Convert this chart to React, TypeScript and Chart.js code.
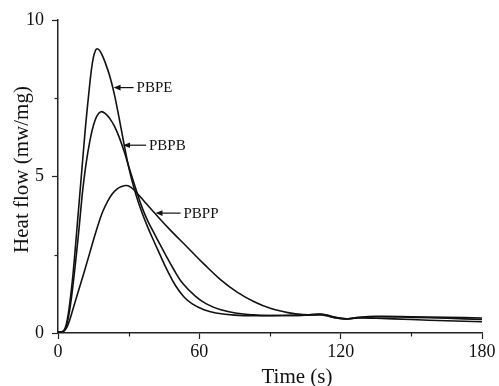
import React, { useEffect, useRef } from "react";
import { Chart, registerables } from "chart.js";

Chart.register(...registerables);

// ---- Data ----
const timePBPE = [0, 2, 3, 4, 5, 6, 7, 8, 9, 10, 11, 12, 13, 14, 15, 16, 16.6, 17.5, 18.5, 20, 22, 24, 26, 28, 30, 32, 34, 36, 38, 40, 43, 46.4, 50, 53.5, 57, 62, 67, 75, 85, 95, 105, 112, 117, 122, 127, 135, 150, 165, 180];
const flowPBPE = [0.03, 0.05, 0.15, 0.45, 0.95, 1.6, 2.4, 3.3, 4.2, 5.1, 6.0, 6.85, 7.6, 8.3, 8.8, 9.04, 9.08, 9.04, 8.92, 8.65, 8.2, 7.6, 6.85, 6.05, 5.3, 4.7, 4.2, 3.78, 3.4, 3.05, 2.55, 2.0, 1.5, 1.15, 0.93, 0.74, 0.64, 0.57, 0.55, 0.56, 0.57, 0.6, 0.5, 0.45, 0.49, 0.52, 0.5, 0.47, 0.43];

const timePBPB = [0, 2, 3, 4, 5, 6, 7, 8, 9, 10, 10.5, 12, 13.7, 15, 16.5, 18.2, 20, 22, 24, 26, 28, 30, 32, 34, 36, 38, 40, 42.1, 45.5, 49.2, 53, 58.4, 63, 69.1, 76, 83, 90, 100, 108, 113, 118, 123, 128, 135, 150, 165, 180];
const flowPBPB = [0.03, 0.04, 0.12, 0.35, 0.75, 1.3, 1.95, 2.65, 3.4, 4.2, 4.57, 5.45, 6.2, 6.62, 6.93, 7.07, 7.02, 6.85, 6.6, 6.25, 5.82, 5.33, 4.85, 4.38, 3.95, 3.6, 3.3, 3.0, 2.52, 2.02, 1.58, 1.17, 0.93, 0.74, 0.63, 0.58, 0.56, 0.56, 0.58, 0.59, 0.5, 0.45, 0.5, 0.53, 0.52, 0.5, 0.48];

const timePBPP = [0, 2, 3, 4, 5, 6.5, 8.5, 11.4, 14.2, 17, 19, 21, 23, 25, 27, 29.2, 31, 33.3, 37, 41.4, 47.8, 54.9, 62, 69.1, 76.2, 83.3, 90.4, 97.6, 104, 112, 117, 122, 127, 135, 150, 165, 180];
const flowPBPP = [0.02, 0.04, 0.1, 0.22, 0.42, 0.8, 1.3, 2.02, 2.75, 3.45, 3.88, 4.2, 4.44, 4.6, 4.68, 4.71, 4.65, 4.49, 4.17, 3.8, 3.28, 2.74, 2.2, 1.7, 1.3, 1.0, 0.78, 0.65, 0.59, 0.58, 0.5, 0.45, 0.48, 0.47, 0.43, 0.39, 0.36];

const seriesNames = ["PBPE", "PBPB", "PBPP"];
// arrow tip of each label, in data units (time, heat flow)
const labelTipTime = [23.6, 27.6, 41.4];
const labelTipFlow = [7.84, 6.0, 3.83];

const xTicks = [0, 60, 120, 180];
const xMinorTicks = [30, 90, 150];
const yTicks = [0, 5, 10];
const yMinorTicks = [2.5, 7.5];

const xTitle = "Time (s)";
const yTitle = "Heat flow (mw/mg)";

const SERIF = '"Liberation Serif", "Times New Roman", Times, serif';
const INK = "#111";

const toPoints = (t: number[], v: number[]) => t.map((x, i) => ({ x, y: v[i] }));

const decorPlugin = {
  id: "decor",
  afterDraw(chart: any) {
    const { ctx, scales } = chart;
    const x = scales.x;
    const y = scales.y;
    ctx.save();
    // minor ticks
    ctx.strokeStyle = "#222";
    ctx.lineWidth = 1.2;
    xMinorTicks.forEach((v) => {
      const px = Math.round(x.getPixelForValue(v)) + 0.5;
      ctx.beginPath();
      ctx.moveTo(px, y.bottom);
      ctx.lineTo(px, y.bottom + 3.5);
      ctx.stroke();
    });
    yMinorTicks.forEach((v) => {
      const py = Math.round(y.getPixelForValue(v)) + 0.5;
      ctx.beginPath();
      ctx.moveTo(x.left, py);
      ctx.lineTo(x.left - 3.5, py);
      ctx.stroke();
    });

    // series labels with arrows
    ctx.fillStyle = INK;
    ctx.strokeStyle = INK;
    ctx.lineWidth = 1.2;
    ctx.font = `15px ${SERIF}`;
    ctx.textAlign = "left";
    ctx.textBaseline = "middle";
    const arrowLen = [20, 23, 25];
    seriesNames.forEach((name, i) => {
      const tx = x.getPixelForValue(labelTipTime[i]);
      const ty = y.getPixelForValue(labelTipFlow[i]);
      const ex = tx + arrowLen[i];
      ctx.beginPath();
      ctx.moveTo(tx + 5, ty);
      ctx.lineTo(ex, ty);
      ctx.stroke();
      ctx.beginPath();
      ctx.moveTo(tx, ty);
      ctx.lineTo(tx + 7, ty - 2.8);
      ctx.lineTo(tx + 7, ty + 2.8);
      ctx.closePath();
      ctx.fill();
      ctx.fillText(name, ex + 3, ty + 0.5);
    });

    // axis titles
    ctx.font = `21px ${SERIF}`;
    ctx.textBaseline = "alphabetic";
    ctx.textAlign = "center";
    ctx.fillText(xTitle, (x.left + x.right) / 2 + 27, chart.height - 2.7);
    ctx.save();
    ctx.translate(27.5, (y.top + y.bottom) / 2 - 7);
    ctx.rotate(-Math.PI / 2);
    ctx.fillText(yTitle, 0, 0);
    ctx.restore();

    ctx.restore();
  },
};

export default function App() {
  const canvasRef = useRef<HTMLCanvasElement | null>(null);

  useEffect(() => {
    const canvas = canvasRef.current;
    if (!canvas) return;
    const lineStyle = {
      borderColor: INK,
      borderWidth: 1.6,
      pointRadius: 0,
      fill: false,
      tension: 0.4,
    };
    const chart = new Chart(canvas, {
      type: "line",
      data: {
        datasets: [
          { label: seriesNames[0], data: toPoints(timePBPE, flowPBPE), ...lineStyle },
          { label: seriesNames[1], data: toPoints(timePBPB, flowPBPB), ...lineStyle },
          { label: seriesNames[2], data: toPoints(timePBPP, flowPBPP), ...lineStyle },
        ],
      },
      options: {
        responsive: false,
        animation: false,
        layout: { padding: { top: 20, right: 17, left: 0, bottom: 0 } },
        plugins: { legend: { display: false }, tooltip: { enabled: false } },
        scales: {
          x: {
            type: "linear",
            min: 0,
            max: 180,
            afterBuildTicks: (s: any) => {
              s.ticks = xTicks.map((v) => ({ value: v }));
            },
            afterFit: (s: any) => {
              s.height = 53;
            },
            ticks: { font: { family: SERIF, size: 18 }, color: INK, padding: 2, maxRotation: 0 },
            grid: { display: true, drawOnChartArea: false, drawTicks: true, tickLength: 6, tickColor: "#222", tickWidth: 1.2 },
            border: { display: true, color: "#222", width: 1.5 },
          },
          y: {
            type: "linear",
            min: 0,
            max: 10,
            afterBuildTicks: (s: any) => {
              s.ticks = yTicks.map((v) => ({ value: v }));
            },
            afterFit: (s: any) => {
              s.width = 58;
            },
            ticks: { font: { family: SERIF, size: 18 }, color: INK, padding: 8 },
            grid: { display: true, drawOnChartArea: false, drawTicks: true, tickLength: 6, tickColor: "#222", tickWidth: 1.2 },
            border: { display: true, color: "#222", width: 1.5 },
          },
        },
      },
      plugins: [decorPlugin],
    });
    return () => chart.destroy();
  }, []);

  return (
    <div style={{ position: "fixed", left: 0, top: 0, width: 499, height: 386, background: "#fff" }}>
      <canvas ref={canvasRef} width={499} height={386} style={{ display: "block" }} />
    </div>
  );
}
